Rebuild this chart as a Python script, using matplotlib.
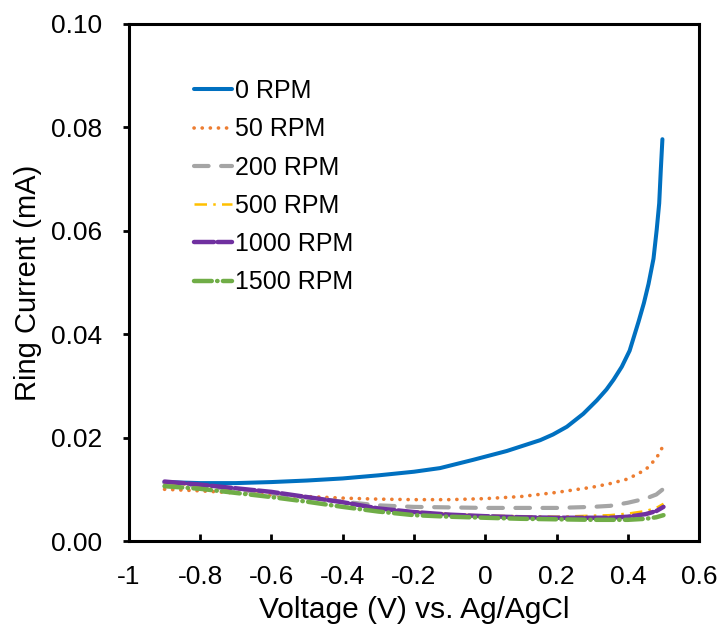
import matplotlib
matplotlib.use("Agg")
from matplotlib import pyplot as plt

plt.rcParams['font.family'] = ['Liberation Sans', 'DejaVu Sans']

# 0 RPM has its own voltage points (steep rise near 0.5 V)
v_0rpm = [-0.9, -0.8, -0.7, -0.6, -0.5, -0.4, -0.3, -0.2, -0.127, -0.034,
          0.06, 0.154, 0.19, 0.229, 0.275, 0.313, 0.34, 0.36, 0.383, 0.405,
          0.43, 0.445, 0.458, 0.472, 0.481, 0.488, 0.4925, 0.497]
i_0rpm = [0.0114, 0.0112, 0.0112, 0.0114, 0.0117, 0.0121, 0.0127, 0.0134,
          0.0141, 0.0157, 0.0174, 0.0195, 0.0206, 0.0221, 0.0246, 0.0272,
          0.0293, 0.0312, 0.0337, 0.0368, 0.0424, 0.0460, 0.0497, 0.0546,
          0.0602, 0.0653, 0.0718, 0.0777]

# other speeds share one voltage grid
voltage = [-0.9, -0.8, -0.7, -0.6, -0.5, -0.4, -0.3, -0.2, -0.1, 0.0, 0.1,
           0.2, 0.3, 0.35, 0.4, 0.45, 0.48, 0.5]
i_50rpm = [0.0100, 0.0097, 0.0093, 0.0089, 0.0086, 0.0083, 0.0081, 0.0080,
           0.0080, 0.0082, 0.0086, 0.0094, 0.0104, 0.0111, 0.0120, 0.0138,
           0.0160, 0.0185]
i_200rpm = [0.0112, 0.0106, 0.0099, 0.0092, 0.0084, 0.0076, 0.0069, 0.0066,
            0.0065, 0.0064, 0.0064, 0.0064, 0.0066, 0.0068, 0.0074, 0.0082,
            0.0090, 0.0101]
i_500rpm = [0.0113, 0.0107, 0.0100, 0.0094, 0.0085, 0.0075, 0.0063, 0.0057,
            0.0052, 0.0049, 0.0048, 0.0047, 0.0049, 0.0050, 0.0053, 0.0058,
            0.0064, 0.0072]
i_1000rpm = [0.0115, 0.0109, 0.0102, 0.0095, 0.0085, 0.0075, 0.0063, 0.0056,
             0.0051, 0.0048, 0.0046, 0.0045, 0.0045, 0.0045, 0.0047, 0.0052,
             0.0058, 0.0066]
i_1500rpm = [0.0106, 0.0101, 0.0093, 0.0085, 0.0076, 0.0066, 0.0057, 0.0050,
             0.0047, 0.0045, 0.0043, 0.0042, 0.0041, 0.0041, 0.0041, 0.0043,
             0.0046, 0.0050]

labels = ['0 RPM', '50 RPM', '200 RPM', '500 RPM', '1000 RPM', '1500 RPM']
x_ticks = [-1, -0.8, -0.6, -0.4, -0.2, 0, 0.2, 0.4, 0.6]
x_ticklabels = ['-1', '-0.8', '-0.6', '-0.4', '-0.2', '0', '0.2', '0.4', '0.6']
y_ticks = [0.00, 0.02, 0.04, 0.06, 0.08, 0.10]

fig = plt.figure(figsize=(7.2, 6.28), dpi=100)
ax = fig.add_axes([0.179, 0.1385, 0.792, 0.8235])

ax.plot(v_0rpm, i_0rpm, color='#0070C0', lw=2.9, solid_capstyle='round',
        solid_joinstyle='round', label=labels[0])
ax.plot(voltage, i_50rpm, color='#ED7D31', lw=2.6, linestyle=(0, (0.05, 2.2)),
        dash_capstyle='round', label=labels[1])
ax.plot(voltage, i_200rpm, color='#A5A5A5', lw=3.0, linestyle=(0, (3.5, 3.0)),
        dash_capstyle='round', label=labels[2])
ax.plot(voltage, i_500rpm, color='#FFC000', lw=1.8,
        linestyle=(0, (5, 2.5, 1, 2.5)), label=labels[3])
ax.plot(voltage, i_1000rpm, color='#7030A0', lw=3.2,
        linestyle=(0, (4.5, 0.8)), dash_capstyle='round', label=labels[4])
ax.plot(voltage, i_1500rpm, color='#70AD47', lw=3.2,
        linestyle=(0, (4.0, 1.2, 0.1, 1.2)), dash_capstyle='round',
        label=labels[5])

ax.set_xlim(-1, 0.6)
ax.set_ylim(0, 0.1)
ax.set_xticks(x_ticks)
ax.set_xticklabels(x_ticklabels)
ax.set_yticks(y_ticks)
ax.set_yticklabels([f'{t:.2f}' for t in y_ticks])

for s in ax.spines.values():
    s.set_linewidth(2.2)

ax.tick_params(axis='x', direction='in', length=5, width=2, labelsize=19, pad=17)
ax.tick_params(axis='y', direction='out', length=4, width=2, labelsize=19, pad=15)

ax.set_xlabel('Voltage (V) vs. Ag/AgCl', fontsize=21.5, labelpad=5)
ax.set_ylabel('Ring Current (mA)', fontsize=21, labelpad=7)

leg = ax.legend(loc='upper left', bbox_to_anchor=(0.27, 0.874),
                bbox_transform=fig.transFigure, frameon=False, fontsize=18,
                handlelength=1.5, handletextpad=0.12, labelspacing=0.57,
                borderpad=0, borderaxespad=0)

plt.savefig('out.png', dpi=100)
plt.close(fig)
